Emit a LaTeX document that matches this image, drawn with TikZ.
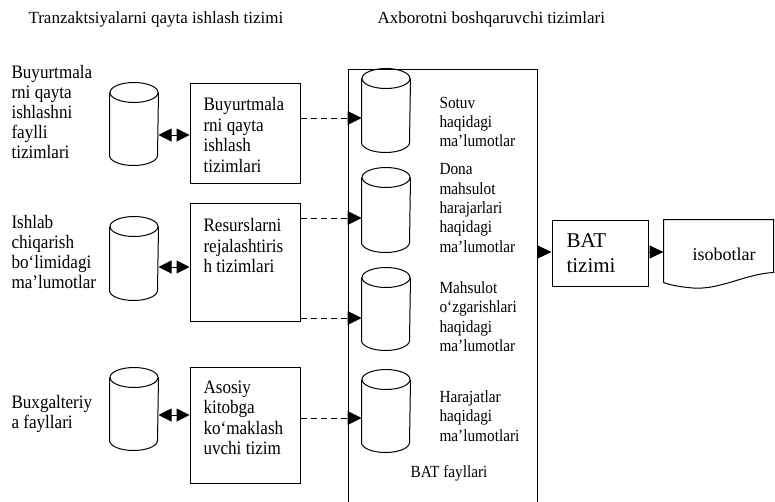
\documentclass[tikz,border=0pt]{standalone}
\usepackage{fontspec}
\setmainfont{Liberation Serif}
\newfontfamily\cond[FakeStretch=0.9]{Liberation Serif}
\usetikzlibrary{arrows.meta}
\newcommand\drawcyl[1]{%
  \draw ([yshift=-10pt]#1.north) ellipse [x radius=24pt, y radius=10pt];
  \draw ([yshift=-10pt]#1.north west) -- ([yshift=10pt]#1.south west)
        arc[start angle=180, end angle=360, x radius=24pt, y radius=10pt]
        -- ([yshift=-10pt]#1.north east);}
\begin{document}
\begin{tikzpicture}[x=1pt, y=-1pt, line width=1pt,
  title/.style={anchor=base west, inner sep=0, font=\fontsize{17}{20}\selectfont},
  lbl/.style={inner sep=0, anchor=north west, align=left, font=\cond\fontsize{19}{20}\selectfont},
  boxtxt/.style={inner sep=0, anchor=north west, align=left, font=\cond\fontsize{19}{20.5}\selectfont},
  intxt/.style={inner sep=0, anchor=north west, align=left, font=\cond\fontsize{17}{19.3}\selectfont},
  sbox/.style={draw, inner sep=0, minimum width=110pt},
  cylbox/.style={inner sep=0, minimum width=48pt},
  dbl/.style={{Triangle[length=13pt,width=13pt]}-{Triangle[length=13pt,width=13pt]}},
  dasharr/.style={dash pattern=on 6pt off 4pt, -{Triangle[length=14pt,width=14pt]}},
  solarr/.style={-{Triangle[length=14pt,width=13pt]}}
]
\useasboundingbox (0,0) rectangle (775,501);

% titles
\node[title] (t1) at (28,23) {Tranzaktsiyalarni qayta ishlash tizimi};
\node[title] (t2) at (377,23) {Axborotni boshqaruvchi tizimlari};

% left labels
\node[lbl] (l1) at (11,65) {Buyurtmala\\rni qayta\\ishlashni\\faylli\\tizimlari};
\node[lbl] (l2) at (11,215) {Ishlab\\chiqarish\\bo‘limidagi\\ma’lumotlar};
\node[lbl] (l3) at (11,395) {Buxgalteriy\\a fayllari};

% left cylinders
\node[cylbox, minimum height=82pt] (c1) at (134,124) {};
\node[cylbox, minimum height=83pt] (c2) at (134,258.5) {};
\node[cylbox, minimum height=82pt] (c3) at (134,409) {};
\drawcyl{c1}\drawcyl{c2}\drawcyl{c3}

% process boxes
\node[sbox, minimum height=100pt] (b1) at (245,133) {};
\node[sbox, minimum height=118pt] (b2) at (245,262) {};
\node[sbox, minimum height=116pt] (b3) at (245,425) {};
\node[boxtxt] (b1t) at (203,97) {Buyurtmala\\rni qayta\\ishlash\\tizimlari};
\node[boxtxt] (b2t) at (203,218) {Resurslarni\\rejalashtiris\\h tizimlari};
\node[boxtxt] (b3t) at (203,380) {Asosiy\\kitobga\\ko‘maklash\\uvchi tizim};

% big box (BAT files)
\node[draw, inner sep=0, minimum width=189pt, minimum height=460pt] (big) at (442.5,299) {};
\node[cylbox, minimum height=83pt] (cA) at (386,110.5) {};
\node[cylbox, minimum height=84pt] (cB) at (386,210) {};
\node[cylbox, minimum height=82pt] (cC) at (386,309) {};
\node[cylbox, minimum height=82pt] (cD) at (386,411) {};
\drawcyl{cA}\drawcyl{cB}\drawcyl{cC}\drawcyl{cD}
\node[intxt] (tA) at (439,96.3) {Sotuv\\haqidagi\\ma’lumotlar};
\node[intxt] (tB) at (439,163.3) {Dona\\mahsulot\\harajarlari\\haqidagi\\ma’lumotlar};
\node[intxt] (tC) at (439,281.3) {Mahsulot\\o‘zgarishlari\\haqidagi\\ma’lumotlar};
\node[intxt] (tD) at (439,390.3) {Harajatlar\\haqidagi\\ma’lumotlari};
\node[anchor=base, inner sep=0, font=\cond\fontsize{17}{20}\selectfont] (bf) at (449,477) {BAT fayllari};

% BAT system
\node[draw, inner sep=0, minimum width=96pt, minimum height=66pt] (bat) at (600,253) {};
\node[inner sep=0, anchor=north west, align=left, font=\fontsize{21}{25}\selectfont] (batt) at (566,233.5) {BAT\\tizimi};

% document
\node[inner sep=0, minimum width=109pt, minimum height=62pt] (doc) at (718.5,251) {};
\draw (doc.south west) -- (doc.north west) -- (doc.north east) -- ([yshift=10pt]doc.south east)
  .. controls (745,274) and (720,290) .. (693,288)
  .. controls (680,287) and (670,285) .. (doc.south west);
\node[anchor=base, inner sep=0, font=\fontsize{18}{20}\selectfont] (doct) at (724,260) {isobotlar};

% connectors
\draw[dbl] (c1.east |- 0,135) -- (b1.west |- 0,135);
\draw[dbl] (c2.east |- 0,267) -- (b2.west |- 0,267);
\draw[dbl] (c3.east |- 0,415) -- (b3.west |- 0,415);
\draw[dasharr] (b1.east |- 0,118) -- (cA.west |- 0,118);
\draw[dasharr] (b2.east |- 0,218) -- (cB.west |- 0,218);
\draw[dasharr] (b2.east |- 0,318) -- (cC.west |- 0,318);
\draw[dasharr] (b3.east |- 0,418) -- (cD.west |- 0,418);
\draw[solarr] (big.east |- 0,252) -- (bat.west |- 0,252);
\draw[solarr] (bat.east |- 0,252) -- (doc.west |- 0,252);
\end{tikzpicture}
\end{document}
